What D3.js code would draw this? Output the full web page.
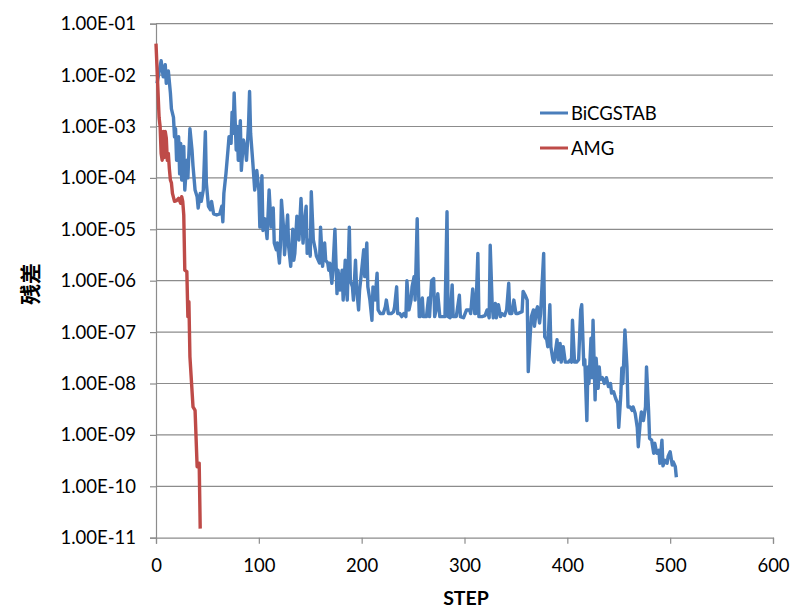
<!DOCTYPE html>
<html>
<head>
<meta charset="utf-8">
<script src="https://cdn.jsdelivr.net/npm/d3@7"></script>
<style>
  body { margin: 0; background: #fff; }
  svg text { font-family: Lato, "Open Sans", sans-serif; fill: #000; }
</style>
</head>
<body>
<script>
const width = 792;
const height = 608;

// residual history (step, residual)
const amgSteps = [0, 3, 4, 5, 6, 7, 8, 9, 10, 11, 12, 13, 14, 15, 16, 18, 20, 22, 24, 25, 26, 27, 28, 30, 31, 32, 33, 36, 38, 40, 42, 43];
const amgResidual = [4.1e-2, 1.5e-3, 1.0e-3, 3.0e-4, 2.2e-4, 8.0e-4, 2.5e-4, 8.0e-4, 6.0e-4, 2.2e-4, 3.0e-4, 1.5e-4,
  9.1e-5, 8.0e-5, 5.0e-5, 3.5e-5, 3.6e-5, 4.0e-5, 3.2e-5, 4.3e-5, 3.5e-5, 1.9e-5, 1.6e-6, 1.5e-6, 2.0e-7, 3.9e-7,
  3.3e-8, 3.5e-9, 3.0e-9, 2.4e-10, 2.8e-10, 1.5e-11];

const bicgSteps = [1, 5, 7, 9, 10, 12, 14, 15, 17, 18, 19, 20, 22, 23, 24, 25, 27, 28, 30, 31, 33, 35, 36, 38, 40, 41, 43, 44, 46, 48, 49,
  51, 53, 54, 56, 59, 62, 64, 65, 66, 68, 70, 71, 73, 74, 75, 76, 78, 79, 80, 82, 83, 85, 87, 88, 90, 91, 92, 94, 96, 98, 100,
  101, 103, 104, 106, 108, 110, 112, 114, 115, 117, 118, 120, 121, 122, 124, 125, 128, 129, 131, 133, 134, 135, 137, 139, 141,
  143, 144, 146, 147, 149, 150, 151, 153, 155, 156, 159, 160, 162, 164, 165, 167, 168, 169, 171, 172, 174, 176, 177, 179, 181,
  182, 184, 185, 186, 188, 189, 191, 192, 194, 195, 197, 198, 200, 202, 203, 205, 206, 208, 210, 211, 213, 215, 216, 218, 221,
  223, 224, 226, 229, 231, 232, 234, 235, 237, 239, 241, 243, 244, 246, 248, 249, 251, 252, 254, 255, 256, 257, 259, 260, 263,
  265, 266, 268, 270, 271, 273, 274, 276, 281, 283, 284, 286, 288, 289, 292, 295, 296, 299, 302, 305, 306, 308, 310, 311, 313,
  314, 317, 320, 322, 324, 325, 327, 328, 330, 331, 333, 335, 336, 339, 341, 343, 344, 346, 348, 350, 352, 356, 357, 359, 361,
  362, 364, 365, 367, 368, 370, 371, 373, 374, 377, 378, 380, 381, 383, 384, 386, 387, 390, 391, 393, 394, 396, 398, 401, 403,
  404, 405, 407, 409, 411, 413, 414, 416, 417, 419, 420, 421, 423, 424, 425, 427, 428, 430, 431, 432, 434, 436, 438, 440, 442,
  443, 445, 447, 449, 450, 452, 453, 454, 456, 458, 459, 461, 463, 464, 466, 468, 469, 471, 472, 474, 476, 477, 479, 480, 482,
  484, 485, 487, 489, 490, 492, 493, 495, 497, 498, 500, 502, 503, 505, 506];
const bicgResidual = [6.9e-3, 1.9e-2, 9.3e-3, 1.6e-2, 6.9e-3, 1.2e-2, 4.5e-3, 2.2e-3, 1.5e-3, 6.3e-4, 9.1e-4, 2.2e-4, 6.3e-4,
  1.2e-4, 4.7e-4, 9.1e-5, 4.1e-4, 5.8e-5, 2.2e-4, 1.0e-4, 9.1e-4, 3.5e-4, 1.7e-4, 5.8e-5, 4.3e-5, 2.6e-5, 5.0e-5, 3.5e-5,
  5.8e-5, 7.9e-4, 7.8e-5, 2.8e-5, 2.4e-5, 3.5e-5, 2.0e-5, 1.9e-5, 2.0e-5, 2.8e-5, 1.4e-5, 5.0e-5, 1.2e-4, 3.5e-4, 6.3e-4,
  4.7e-4, 1.9e-3, 7.4e-4, 4.5e-3, 3.5e-4, 1.0e-3, 2.2e-4, 1.3e-3, 1.4e-4, 5.5e-4, 3.5e-4, 2.2e-4, 1.1e-3, 4.8e-3, 7.4e-4,
  2.2e-4, 5.8e-5, 1.4e-4, 5.8e-5, 1.1e-5, 1.1e-4, 9.5e-6, 1.6e-5, 6.6e-6, 5.8e-5, 1.1e-5, 2.6e-5, 5.4e-6, 4.0e-6, 5.4e-6,
  2.2e-6, 4.9e-6, 3.7e-5, 1.1e-5, 3.2e-6, 1.9e-5, 4.6e-6, 1.9e-6, 1.0e-5, 2.5e-6, 3.4e-6, 1.8e-5, 6.2e-6, 4.0e-5, 5.4e-6,
  1.1e-5, 2.8e-5, 3.4e-6, 6.2e-6, 3.0e-6, 5.4e-5, 6.2e-6, 4.0e-6, 3.0e-6, 2.2e-6, 1.1e-5, 1.9e-6, 5.4e-6, 2.5e-6, 2.2e-6,
  1.6e-6, 2.2e-6, 8.9e-7, 1.6e-6, 1.0e-5, 5.6e-7, 1.6e-6, 6.6e-7, 1.6e-6, 4.2e-7, 2.5e-6, 7.6e-7, 4.2e-7, 1.1e-5, 1.0e-6,
  7.6e-7, 4.2e-7, 2.5e-6, 7.6e-7, 2.7e-7, 6.6e-7, 1.6e-6, 4.0e-6, 1.2e-6, 5.4e-6, 7.6e-7, 4.2e-7, 1.7e-7, 7.6e-7, 4.2e-7,
  1.4e-6, 2.7e-7, 2.3e-7, 2.3e-7, 3.1e-7, 4.2e-7, 2.3e-7, 2.3e-7, 2.5e-7, 3.1e-7, 7.6e-7, 2.3e-7, 2.3e-7, 2.0e-7, 2.3e-7,
  2.0e-7, 1.0e-6, 2.7e-7, 4.2e-7, 7.6e-7, 1.2e-6, 4.2e-7, 1.6e-5, 1.2e-6, 2.0e-7, 2.0e-7, 4.6e-7, 2.0e-7, 2.0e-7, 4.6e-7,
  2.0e-7, 1.0e-6, 1.1e-6, 2.0e-7, 3.1e-7, 5.6e-7, 2.0e-7, 2.0e-7, 2.2e-5, 2.0e-7, 1.9e-7, 8.3e-7, 2.0e-7, 2.0e-7, 5.2e-7,
  2.0e-7, 1.9e-7, 2.7e-7, 2.7e-7, 2.3e-7, 6.9e-7, 2.3e-7, 2.3e-7, 3.4e-6, 2.0e-7, 2.0e-7, 2.1e-7, 2.7e-7, 1.9e-7, 4.9e-6,
  3.1e-7, 1.9e-7, 3.6e-7, 1.9e-7, 3.4e-7, 2.0e-7, 2.3e-7, 2.1e-7, 2.7e-7, 8.9e-7, 2.3e-7, 2.3e-7, 4.2e-7, 2.3e-7, 2.3e-7,
  2.5e-7, 6.2e-7, 5.2e-7, 4.2e-7, 1.7e-8, 9.5e-8, 2.0e-7, 2.7e-7, 1.3e-7, 2.7e-7, 3.1e-7, 1.5e-7, 2.3e-7, 3.4e-6, 8.1e-8,
  7.1e-8, 5.2e-8, 3.4e-7, 5.2e-8, 2.9e-8, 2.6e-8, 7.1e-8, 2.9e-8, 6.0e-8, 2.6e-8, 5.2e-8, 2.6e-8, 2.6e-8, 2.9e-8, 2.6e-8,
  1.7e-7, 2.6e-8, 2.6e-8, 2.9e-8, 2.7e-7, 3.4e-7, 2.3e-8, 2.9e-8, 1.9e-9, 2.1e-8, 1.0e-8, 7.6e-8, 1.3e-8, 1.7e-7, 4.8e-9,
  3.1e-8, 8.1e-9, 2.1e-8, 1.2e-8, 1.3e-8, 1.0e-8, 1.3e-8, 8.7e-9, 1.0e-8, 6.5e-9, 6.9e-9, 5.1e-9, 4.1e-9, 1.4e-9, 6.0e-9,
  2.0e-8, 1.0e-8, 1.1e-7, 2.1e-8, 3.5e-9, 3.5e-9, 3.0e-9, 3.5e-9, 2.6e-9, 1.4e-9, 5.9e-10, 1.9e-9, 2.8e-9, 1.9e-9, 3.5e-9,
  2.1e-8, 3.0e-9, 8.5e-10, 7.9e-10, 4.4e-10, 6.9e-10, 4.4e-10, 5.0e-10, 2.8e-10, 7.9e-10, 2.5e-10, 3.2e-10, 2.8e-10,
  3.8e-10, 4.7e-10, 2.6e-10, 3.0e-10, 2.4e-10, 1.5e-10];

const seriesNames = ["BiCGSTAB", "AMG"];
const seriesColors = ["#4a7ebb", "#be4b48"];

const xTicks = [0, 100, 200, 300, 400, 500, 600];
const yTicks = [1e-1, 1e-2, 1e-3, 1e-4, 1e-5, 1e-6, 1e-7, 1e-8, 1e-9, 1e-10, 1e-11];
const yTickLabels = ["1.00E-01", "1.00E-02", "1.00E-03", "1.00E-04", "1.00E-05", "1.00E-06",
  "1.00E-07", "1.00E-08", "1.00E-09", "1.00E-10", "1.00E-11"];

const plot = { left: 156, right: 773, top: 23.7, bottom: 537.7 };

let svg = d3.select('body')
            .append('svg')
            .attr('width', width)
            .attr('height', height);

let xScale = d3.scaleLinear()
               .domain([0, 600])
               .range([plot.left, plot.right]);

let yScale = d3.scaleLog()
               .domain([1e-11, 1e-1])
               .range([plot.bottom, plot.top]);

// horizontal gridlines
svg.append('g')
   .selectAll('line')
   .data(yTicks.slice(0, -1))
   .enter()
   .append('line')
   .attr('x1', plot.left)
   .attr('x2', plot.right)
   .attr('y1', d => yScale(d))
   .attr('y2', d => yScale(d))
   .attr('stroke', '#8c8c8c')
   .attr('stroke-width', 1.2);

let yAxis = d3.axisLeft(yScale)
              .tickValues(yTicks)
              .tickFormat((d, i) => yTickLabels[i])
              .tickSize(6)
              .tickPadding(14);
let yg = svg.append('g')
   .attr('transform', `translate(${plot.left}, 0)`)
   .call(yAxis);

let xAxis = d3.axisBottom(xScale)
              .tickValues(xTicks)
              .tickSize(6)
              .tickPadding(15);
let xg = svg.append('g')
   .attr('transform', `translate(0, ${plot.bottom})`)
   .call(xAxis);

[yg, xg].forEach(g => {
    g.select('.domain').attr('stroke', '#8c8c8c').attr('stroke-width', 1.2);
    g.selectAll('.tick line').attr('stroke', '#8c8c8c').attr('stroke-width', 1.2);
    g.selectAll('.tick text')
     .attr('font-family', 'Lato, sans-serif')
     .attr('font-size', 18.5)
     .attr('fill', '#000');
});

let line = d3.line()
             .x(d => xScale(d[0]))
             .y(d => yScale(d[1]));

const bicg = bicgSteps.map((s, i) => [s, bicgResidual[i]]);
const amg = amgSteps.map((s, i) => [s, amgResidual[i]]);

svg.append('path')
   .datum(bicg)
   .attr('d', line)
   .attr('fill', 'none')
   .attr('stroke', seriesColors[0])
   .attr('stroke-width', 3.4)
   .attr('stroke-linejoin', 'round');

svg.append('path')
   .datum(amg)
   .attr('d', line)
   .attr('fill', 'none')
   .attr('stroke', seriesColors[1])
   .attr('stroke-width', 3.4)
   .attr('stroke-linejoin', 'round');

// legend
let legend = svg.append('g');
seriesNames.forEach((name, i) => {
    let y = 113 + i * 35;
    legend.append('line')
          .attr('x1', 540).attr('x2', 568)
          .attr('y1', y).attr('y2', y)
          .attr('stroke', seriesColors[i])
          .attr('stroke-width', 3);
    legend.append('text')
          .attr('x', 571)
          .attr('y', y + 6.5)
          .attr('font-size', 18.5)
          .text(name);
});

// axis titles
svg.append('text')
   .attr('x', 466)
   .attr('y', 605)
   .attr('text-anchor', 'middle')
   .attr('font-size', 19.5)
   .attr('font-weight', 'bold')
   .text('STEP');

svg.append('text')
   .attr('transform', 'translate(38, 284) rotate(-90)')
   .attr('text-anchor', 'middle')
   .attr('font-size', 21)
   .attr('font-weight', 'bold')
   .style('font-family', '"Noto Sans CJK JP", sans-serif')
   .text('残差');
</script>
</body>
</html>
